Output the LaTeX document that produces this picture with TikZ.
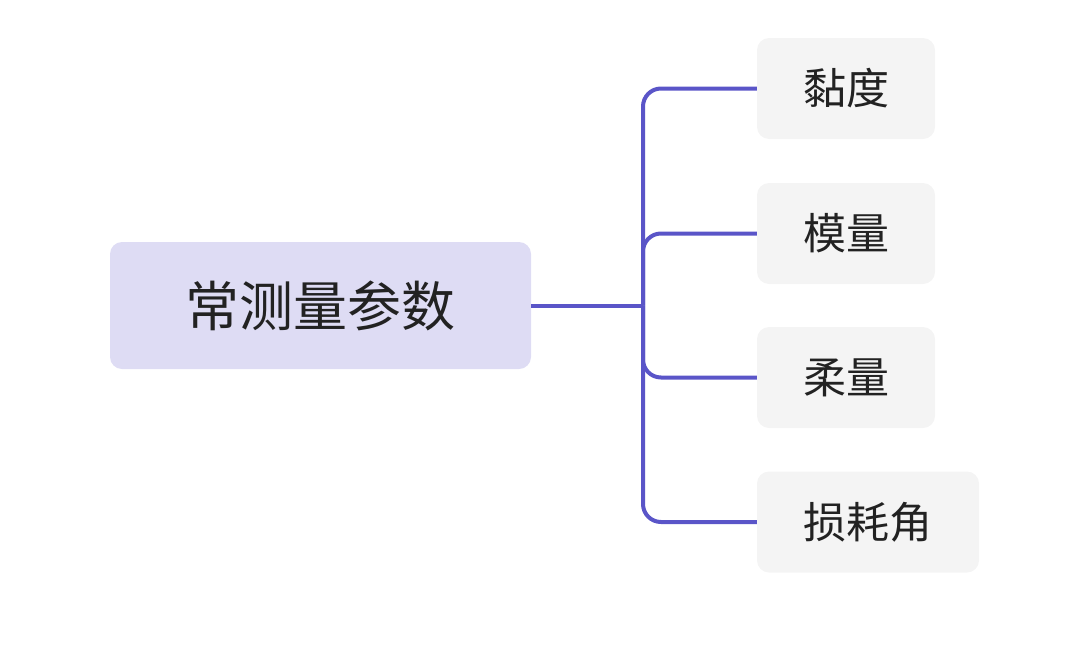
\documentclass[tikz,border=0pt]{standalone}
\usepackage{fontspec}
\setmainfont{Noto Sans CJK SC}
\definecolor{rootfill}{HTML}{DEDCF4}
\definecolor{childfill}{HTML}{F4F4F4}
\definecolor{linkcol}{HTML}{5A55C8}
\definecolor{txt}{HTML}{222222}
\begin{document}
\begin{tikzpicture}[x=1pt,y=-1pt,
  rootbox/.style={fill=rootfill, rounded corners=12pt, minimum width=421pt, minimum height=127pt, inner sep=0pt, text=txt, font=\fontsize{54}{64}\selectfont},
  childbox/.style={fill=childfill, rounded corners=12pt, minimum height=101pt, inner sep=0pt, text=txt, font=\fontsize{43}{52}\selectfont},
  link/.style={draw=linkcol, line width=4pt, rounded corners=18pt}]
\useasboundingbox (0,0) rectangle (1082,659);
\node[rootbox] (root) at (320.5,305.5) {常测量参数};
\node[childbox, minimum width=178pt] (c1) at (846,88.5) {黏度};
\node[childbox, minimum width=178pt] (c2) at (846,233.5) {模量};
\node[childbox, minimum width=178pt] (c3) at (846,377.5) {柔量};
\node[childbox, minimum width=222pt] (c4) at (868,522) {损耗角};
\coordinate (bus) at (643,305.5);
\draw[link] (root.east) -- (bus);
\draw[link] (bus) |- (c1.west);
\draw[link] (bus) |- (c2.west);
\draw[link] (bus) |- (c3.west);
\draw[link] (bus) |- (c4.west);
\end{tikzpicture}
\end{document}
